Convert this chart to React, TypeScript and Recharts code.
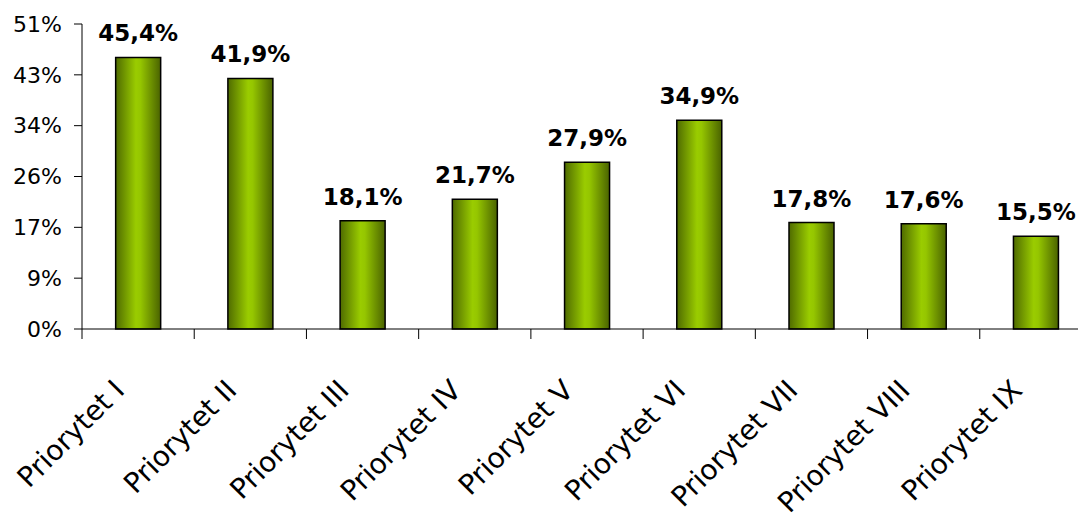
import { BarChart, Bar, XAxis, YAxis, LabelList } from "recharts";

const categories = [
  "Priorytet I",
  "Priorytet II",
  "Priorytet III",
  "Priorytet IV",
  "Priorytet V",
  "Priorytet VI",
  "Priorytet VII",
  "Priorytet VIII",
  "Priorytet IX",
];
const values = [45.4, 41.9, 18.1, 21.7, 27.9, 34.9, 17.8, 17.6, 15.5];
const yTicks = [0, 8.5, 17, 25.5, 34, 42.5, 51];

const data = categories.map((name, i) => ({ name, value: values[i] }));

const FONT = "'DejaVu Sans', Verdana, sans-serif";
const CHART_W = 1100;
const Y_AXIS_W = 82;
const RIGHT = 8;
const BAND = (CHART_W - Y_AXIS_W - RIGHT) / categories.length;

function CategoryTick(props: any) {
  const { x, y, payload } = props;
  const half = payload && payload.offset ? payload.offset : BAND / 2;
  const tx = x - 12;
  const ty = y + 63;
  return (
    <g>
      <line x1={x - half} y1={y} x2={x - half} y2={y + 10} stroke="#000" />
      <text
        x={tx}
        y={ty}
        transform={`rotate(-45 ${tx} ${ty})`}
        textAnchor="end"
        fontFamily={FONT}
        fontSize={28}
        fill="#000"
      >
        {payload.value}
      </text>
    </g>
  );
}

export default function App() {
  return (
    <div
      style={{
        position: "absolute",
        left: 0,
        top: 0,
        width: 1078,
        height: 515,
        overflow: "hidden",
        background: "#fff",
      }}
    >
      <BarChart
        width={CHART_W}
        height={515}
        data={data}
        margin={{ top: 24, right: RIGHT, bottom: 0, left: 0 }}
        barCategoryGap="30%"
      >
        <defs>
          <linearGradient id="barGrad" x1="0" y1="0" x2="1" y2="0">
            <stop offset="0%" stopColor="#4f6b00" />
            <stop offset="45%" stopColor="#9acc00" />
            <stop offset="55%" stopColor="#95c600" />
            <stop offset="100%" stopColor="#4a6300" />
          </linearGradient>
        </defs>
        <XAxis
          dataKey="name"
          height={186}
          interval={0}
          tickLine={false}
          tickSize={0}
          tickMargin={0}
          axisLine={{ stroke: "#000" }}
          tick={<CategoryTick />}
        />
        <YAxis
          width={Y_AXIS_W}
          domain={[0, 51]}
          ticks={yTicks}
          interval={0}
          tickSize={8}
          tickMargin={12}
          axisLine={{ stroke: "#000" }}
          tickLine={{ stroke: "#000" }}
          tick={{ fontFamily: FONT, fontSize: 22, fill: "#000" }}
          tickFormatter={(v: number) => `${Math.round(v)}%`}
        />
        <Bar
          dataKey="value"
          fill="url(#barGrad)"
          stroke="#000"
          strokeWidth={1.5}
          isAnimationActive={false}
        >
          <LabelList
            dataKey="value"
            position="top"
            offset={16}
            formatter={(v: any) => `${String(v).replace(".", ",")}%`}
            style={{ fontFamily: FONT, fontSize: 23, fontWeight: "bold", fill: "#000" }}
          />
        </Bar>
      </BarChart>
    </div>
  );
}
